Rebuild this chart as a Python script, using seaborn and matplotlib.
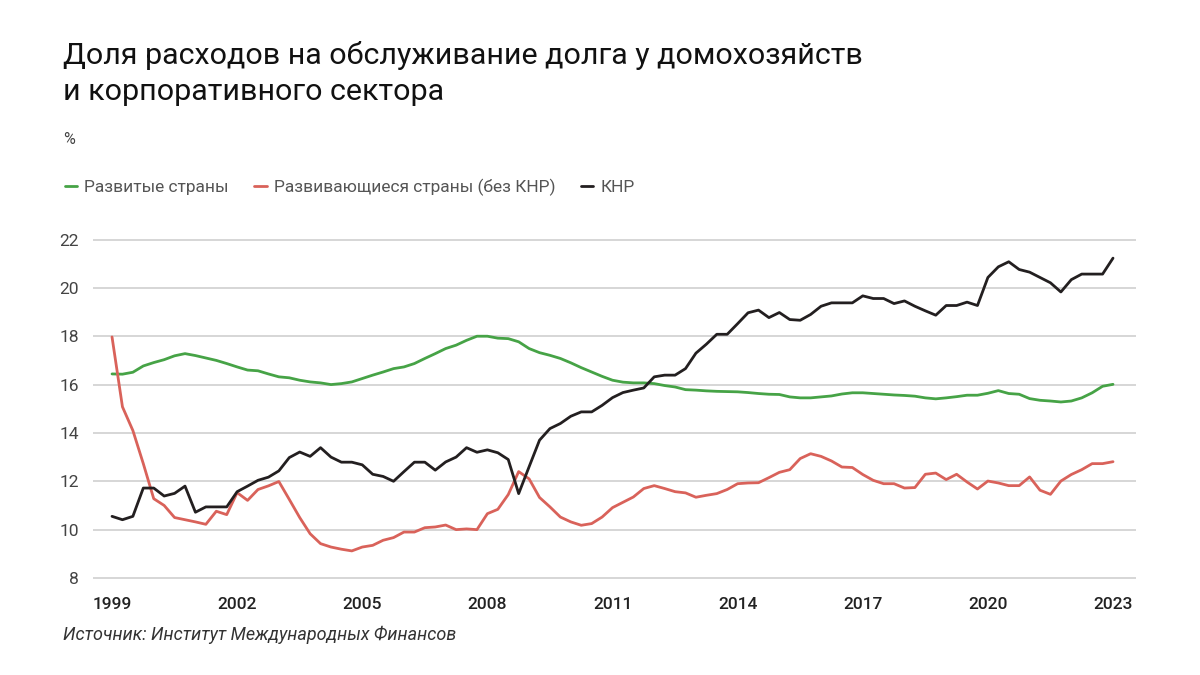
import matplotlib
matplotlib.use("Agg")
import matplotlib.pyplot as plt
import seaborn as sns
import numpy as np
import pandas as pd

# quarterly data, 1999Q1 .. 2023Q1
start_year = 1999
developed = [
    16.44, 16.43, 16.51, 16.77, 16.91, 17.03, 17.19, 17.28,
    17.20, 17.10, 17.00, 16.87, 16.73, 16.60, 16.57, 16.44,
    16.32, 16.28, 16.18, 16.11, 16.07, 16.00, 16.04, 16.11,
    16.25, 16.39, 16.52, 16.66, 16.73, 16.87, 17.08, 17.28,
    17.49, 17.63, 17.83, 18.00, 18.00, 17.92, 17.90, 17.77,
    17.49, 17.32, 17.21, 17.08, 16.90, 16.70, 16.52, 16.34,
    16.18, 16.10, 16.07, 16.07, 16.04, 15.96, 15.90, 15.79,
    15.77, 15.74, 15.72, 15.71, 15.70, 15.67, 15.63, 15.60,
    15.59, 15.49, 15.45, 15.45, 15.49, 15.53, 15.61, 15.66,
    15.66, 15.63, 15.60, 15.57, 15.55, 15.52, 15.45, 15.41,
    15.45, 15.50, 15.56, 15.56, 15.64, 15.75, 15.63, 15.60,
    15.42, 15.35, 15.32, 15.28, 15.32, 15.45, 15.66, 15.93,
    16.01,
]
emerging = [
    17.97, 15.08, 14.10, 12.73, 11.28, 11.00, 10.50, 10.41,
    10.32, 10.22, 10.76, 10.62, 11.53, 11.21, 11.66, 11.81,
    11.99, 11.25, 10.50, 9.83, 9.42, 9.28, 9.19, 9.12,
    9.28, 9.35, 9.56, 9.67, 9.90, 9.90, 10.08, 10.11,
    10.19, 10.00, 10.03, 10.00, 10.66, 10.84, 11.45, 12.40,
    12.10, 11.33, 10.94, 10.52, 10.32, 10.18, 10.25, 10.52,
    10.91, 11.13, 11.35, 11.70, 11.82, 11.70, 11.57, 11.52,
    11.34, 11.42, 11.49, 11.66, 11.90, 11.93, 11.94, 12.15,
    12.37, 12.48, 12.94, 13.14, 13.03, 12.84, 12.59, 12.57,
    12.28, 12.04, 11.90, 11.90, 11.72, 11.74, 12.29, 12.34,
    12.07, 12.29, 11.97, 11.68, 12.01, 11.93, 11.82, 11.82,
    12.18, 11.63, 11.46, 12.01, 12.28, 12.48, 12.73, 12.73,
    12.81,
]
china = [
    10.55, 10.41, 10.55, 11.72, 11.72, 11.39, 11.50, 11.80,
    10.72, 10.94, 10.94, 10.94, 11.57, 11.80, 12.04, 12.17,
    12.43, 12.98, 13.21, 13.03, 13.39, 13.00, 12.79, 12.79,
    12.68, 12.29, 12.20, 12.00, 12.40, 12.79, 12.79, 12.46,
    12.80, 13.00, 13.39, 13.20, 13.30, 13.18, 12.90, 11.49,
    12.60, 13.70, 14.18, 14.39, 14.69, 14.87, 14.87, 15.14,
    15.46, 15.67, 15.77, 15.86, 16.32, 16.39, 16.39, 16.66,
    17.30, 17.67, 18.08, 18.08, 18.52, 18.97, 19.08, 18.77,
    18.98, 18.69, 18.66, 18.90, 19.24, 19.38, 19.38, 19.38,
    19.67, 19.56, 19.56, 19.35, 19.46, 19.24, 19.05, 18.87,
    19.27, 19.27, 19.41, 19.27, 20.43, 20.87, 21.08, 20.76,
    20.65, 20.43, 20.21, 19.83, 20.34, 20.57, 20.57, 20.57,
    21.23,
]
series_names = ["Развитые страны", "Развивающиеся страны (без КНР)", "КНР"]
colors = ["#46a346", "#d9625a", "#231f20"]
x_ticks = [1999, 2002, 2005, 2008, 2011, 2014, 2017, 2020, 2023]
y_ticks = [8, 10, 12, 14, 16, 18, 20, 22]

years = start_year + np.arange(len(developed)) / 4
df = pd.concat([
    pd.DataFrame({"year": years, "value": vals, "series": name})
    for name, vals in zip(series_names, [developed, emerging, china])
])

sns.set_style("white")
plt.rcParams["font.family"] = ["Roboto", "DejaVu Sans"]

fig = plt.figure(figsize=(12, 6.75), dpi=100)
ax = fig.add_axes([0.0775, 1 - 580.4 / 675, 0.8692, (580.4 - 237.1) / 675])

sns.lineplot(data=df, x="year", y="value", hue="series", hue_order=series_names,
             palette=colors, linewidth=2.0, ax=ax)

ax.set_xlim(1998.544, 2023.552)
ax.set_ylim(7.9, 22.1)
ax.set_xticks(x_ticks)
ax.set_yticks(y_ticks)
ax.set_xlabel("")
ax.set_ylabel("")
ax.grid(axis="y", color="#d3d3d3", linewidth=1.3)
ax.grid(axis="x", visible=False)
for s in ax.spines.values():
    s.set_visible(False)
ax.tick_params(axis="both", length=0)
ax.tick_params(axis="y", labelsize=12.5, labelcolor="#444444", pad=10)
ax.tick_params(axis="x", labelsize=12.5, labelcolor="#222222", pad=12)
for lbl in ax.get_xticklabels():
    lbl.set_fontweight("medium")

sns.move_legend(ax, "center left", bbox_to_anchor=(0.041, 1 - 187 / 675),
                bbox_transform=fig.transFigure, ncol=3, title=None, frameon=False,
                handlelength=0.7, handletextpad=0.4, columnspacing=1.5,
                fontsize=12.5, labelcolor="#555555")

fig.text(0.0525, 1 - 64 / 675, "Доля расходов на обслуживание долга у домохозяйств",
         fontsize=21.9, color="#111111", va="baseline")
fig.text(0.0525, 1 - 100 / 675, "и корпоративного сектора",
         fontsize=21.9, color="#111111", va="baseline")
fig.text(0.0525, 1 - 144 / 675, "%", fontsize=11.5, color="#444444", va="baseline")
fig.text(0.0525, 1 - 640 / 675, "Источник: Институт Международных Финансов",
         fontsize=13, color="#333333", style="italic", va="baseline")

fig.savefig("out.png", dpi=100, facecolor="white")
